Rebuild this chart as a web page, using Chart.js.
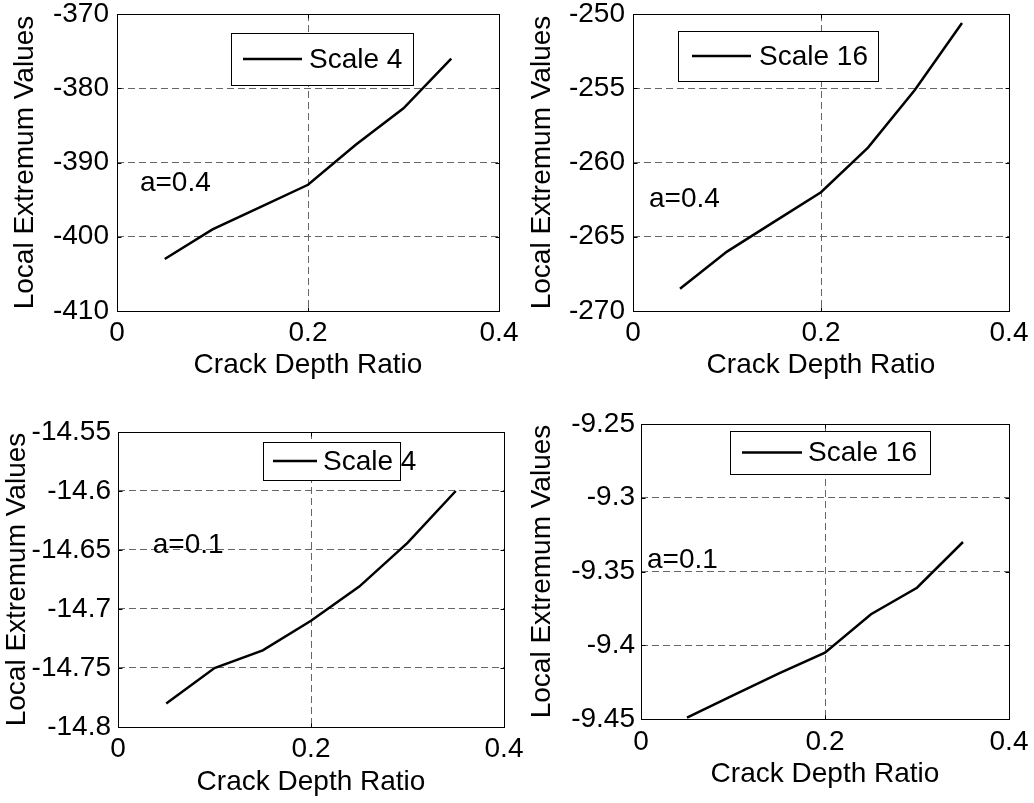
<!DOCTYPE html>
<html>
<head>
<meta charset="utf-8">
<script src="https://cdn.jsdelivr.net/npm/chart.js@4.4.1/dist/chart.umd.min.js"></script>
<style>
  body { margin: 0; background: #fff; }
  .panel { position: absolute; }
</style>
</head>
<body>
<div class="panel" style="left:517px;top:0"><canvas id="c2" width="517" height="400"></canvas></div>
<div class="panel" style="left:517px;top:400px"><canvas id="c4" width="517" height="403"></canvas></div>
<div class="panel" style="left:0;top:0"><canvas id="c1" width="530" height="400"></canvas></div>
<div class="panel" style="left:0;top:400px"><canvas id="c3" width="530" height="403"></canvas></div>
<script>
// crack depth ratio (x) shared by all four plots
const crackRatio = [0.05, 0.1, 0.15, 0.2, 0.25, 0.3, 0.35];

// local extremum values
const scale4A04 = [-403, -399, -396, -393, -387.6, -382.7, -376];
const scale16A04 = [-268.5, -266, -264, -262, -259, -255.1, -250.6];
const scale4A01 = [-14.78, -14.75, -14.735, -14.71, -14.681, -14.644, -14.6];
const scale16A01 = [-9.449, -9.434, -9.419, -9.405, -9.379, -9.361, -9.33];

// tick values and labels
const xTicks = [0, 0.2, 0.4];
const xTickLabels = ["0", "0.2", "0.4"];
const yTicks1 = [-410, -400, -390, -380, -370];
const yLabels1 = ["-410", "-400", "-390", "-380", "-370"];
const yTicks2 = [-270, -265, -260, -255, -250];
const yLabels2 = ["-270", "-265", "-260", "-255", "-250"];
const yTicks3 = [-14.8, -14.75, -14.7, -14.65, -14.6, -14.55];
const yLabels3 = ["-14.8", "-14.75", "-14.7", "-14.65", "-14.6", "-14.55"];
const yTicks4 = [-9.45, -9.4, -9.35, -9.3, -9.25];
const yLabels4 = ["-9.45", "-9.4", "-9.35", "-9.3", "-9.25"];

const seriesNames = ["Scale 4", "Scale 16", "Scale 4", "Scale 16"];
const notes = ["a=0.4", "a=0.4", "a=0.1", "a=0.1"];

const FONT = '"Liberation Sans", Arial, Helvetica, sans-serif';
Chart.defaults.font.family = FONT;
Chart.defaults.font.size = 28;
Chart.defaults.color = '#000';

// box around the plot with small inward ticks, like matlab axes
const framePlugin = {
    id: 'frame',
    afterDraw(chart) {
        const { ctx, chartArea: a, scales: { x, y } } = chart;
        const l = Math.round(a.left) + 0.5, r = Math.round(a.right) + 0.5;
        const t = Math.round(a.top) + 0.5, b = Math.round(a.bottom) + 0.5;
        ctx.save();
        ctx.strokeStyle = '#000';
        ctx.lineWidth = 1;
        ctx.strokeRect(l, t, r - l, b - t);
        ctx.beginPath();
        x.ticks.forEach(tk => {
            const px = Math.round(x.getPixelForValue(tk.value)) + 0.5;
            ctx.moveTo(px, b); ctx.lineTo(px, b - 4);
            ctx.moveTo(px, t); ctx.lineTo(px, t + 4);
        });
        y.ticks.forEach(tk => {
            const py = Math.round(y.getPixelForValue(tk.value)) + 0.5;
            ctx.moveTo(l, py); ctx.lineTo(l + 4, py);
            ctx.moveTo(r, py); ctx.lineTo(r - 4, py);
        });
        ctx.stroke();
        ctx.restore();
    }
};

// legend box drawn inside the plot area
const boxLegendPlugin = {
    id: 'boxLegend',
    afterDatasetsDraw(chart, args, opts) {
        const { ctx, chartArea: a } = chart;
        const ds = chart.data.datasets[0];
        const bx = Math.round(a.left + opts.dx), by = Math.round(a.top + opts.dy);
        const cy = by + opts.h / 2;
        ctx.save();
        ctx.fillStyle = '#fff';
        ctx.fillRect(bx, by, opts.w, opts.h);
        ctx.strokeStyle = '#000';
        ctx.lineWidth = 1;
        ctx.strokeRect(bx + 0.5, by + 0.5, opts.w, opts.h);
        ctx.lineWidth = ds.borderWidth;
        ctx.beginPath();
        ctx.moveTo(bx + opts.lineX, cy);
        ctx.lineTo(bx + opts.lineX + opts.lineLen, cy);
        ctx.stroke();
        ctx.fillStyle = '#000';
        ctx.font = '28px ' + FONT;
        ctx.textBaseline = 'middle';
        ctx.fillText(ds.label, bx + opts.textX, cy + 1);
        ctx.restore();
    }
};

// "a=..." text placed in data coordinates
const notePlugin = {
    id: 'note',
    afterDatasetsDraw(chart, args, opts) {
        const { ctx, scales: { x, y } } = chart;
        ctx.save();
        ctx.fillStyle = '#000';
        ctx.font = '28px ' + FONT;
        ctx.textBaseline = 'alphabetic';
        ctx.fillText(opts.text, x.getPixelForValue(opts.x), y.getPixelForValue(opts.y));
        ctx.restore();
    }
};

function makeChart(p) {
    new Chart(document.getElementById(p.id), {
        type: 'line',
        data: {
            datasets: [{
                label: p.name,
                data: crackRatio.map((v, i) => ({ x: v, y: p.values[i] })),
                borderColor: '#000',
                borderWidth: 2.5,
                pointRadius: 0,
                tension: 0,
                fill: false
            }]
        },
        options: {
            responsive: false,
            animation: false,
            layout: { padding: p.pad },
            plugins: {
                legend: { display: false },
                tooltip: { enabled: false },
                boxLegend: p.legend,
                note: p.note
            },
            scales: {
                x: {
                    type: 'linear',
                    min: 0,
                    max: 0.4,
                    afterBuildTicks: s => { s.ticks = xTicks.map(v => ({ value: v })); },
                    afterFit: s => {
                        s.height = p.xHeight;
                        s.paddingLeft = 0;
                        s.paddingRight = 0;
                    },
                    ticks: {
                        padding: p.xTickPad,
                        autoSkip: false,
                        maxRotation: 0,
                        callback: (v, i) => xTickLabels[i]
                    },
                    grid: { color: '#666', lineWidth: 1, drawTicks: false },
                    border: { display: false, dash: [7, 4] },
                    title: {
                        display: true,
                        text: 'Crack Depth Ratio',
                        padding: { top: 0, bottom: p.xTitlePad }
                    }
                },
                y: {
                    min: p.yTicks[0],
                    max: p.yTicks[p.yTicks.length - 1],
                    afterBuildTicks: s => { s.ticks = p.yTicks.map(v => ({ value: v })); },
                    afterFit: s => {
                        s.width = p.yWidth;
                        s.paddingTop = 0;
                        s.paddingBottom = 0;
                    },
                    ticks: {
                        padding: p.yTickPad,
                        autoSkip: false,
                        callback: (v, i) => p.yLabels[i]
                    },
                    grid: { color: '#666', lineWidth: 1, drawTicks: false },
                    border: { display: false, dash: [7, 4] },
                    title: {
                        display: true,
                        text: 'Local Extremum Values',
                        padding: { top: p.yTitlePad, bottom: 0 }
                    }
                }
            }
        },
        plugins: [framePlugin, boxLegendPlugin, notePlugin]
    });
}

makeChart({
    id: 'c1', name: seriesNames[0], values: scale4A04,
    yTicks: yTicks1, yLabels: yLabels1,
    pad: { left: 0, top: 14, right: 31, bottom: 0 },
    yWidth: 117, xHeight: 89, xTickPad: 5, yTickPad: 8, xTitlePad: 18, yTitlePad: 8,
    legend: { dx: 114, dy: 19, w: 182, h: 52, lineX: 12, lineLen: 59, textX: 78 },
    note: { text: notes[0], x: 0.024, y: -393.8 }
});

makeChart({
    id: 'c2', name: seriesNames[1], values: scale16A04,
    yTicks: yTicks2, yLabels: yLabels2,
    pad: { left: 0, top: 14, right: 25, bottom: 0 },
    yWidth: 116, xHeight: 89, xTickPad: 5, yTickPad: 8, xTitlePad: 18, yTitlePad: 8,
    legend: { dx: 45, dy: 17, w: 200, h: 50, lineX: 14, lineLen: 59, textX: 81 },
    note: { text: notes[1], x: 0.017, y: -263.0 }
});

makeChart({
    id: 'c3', name: seriesNames[2], values: scale4A01,
    yTicks: yTicks3, yLabels: yLabels3,
    pad: { left: 0, top: 32, right: 26, bottom: 0 },
    yWidth: 118, xHeight: 76, xTickPad: 5, yTickPad: 7, xTitlePad: 4, yTitlePad: 0,
    legend: { dx: 145, dy: 10, w: 137, h: 38, lineX: 10, lineLen: 44, textX: 60 },
    note: { text: notes[2], x: 0.036, y: -14.6525 }
});

makeChart({
    id: 'c4', name: seriesNames[3], values: scale16A01,
    yTicks: yTicks4, yLabels: yLabels4,
    pad: { left: 0, top: 24, right: 25, bottom: 0 },
    yWidth: 124, xHeight: 84, xTickPad: 6, yTickPad: 6, xTitlePad: 12, yTitlePad: 8,
    legend: { dx: 89, dy: 7, w: 200, h: 43, lineX: 12, lineLen: 60, textX: 78 },
    note: { text: notes[3], x: 0.0065, y: -9.3476 }
});
</script>
</body>
</html>
